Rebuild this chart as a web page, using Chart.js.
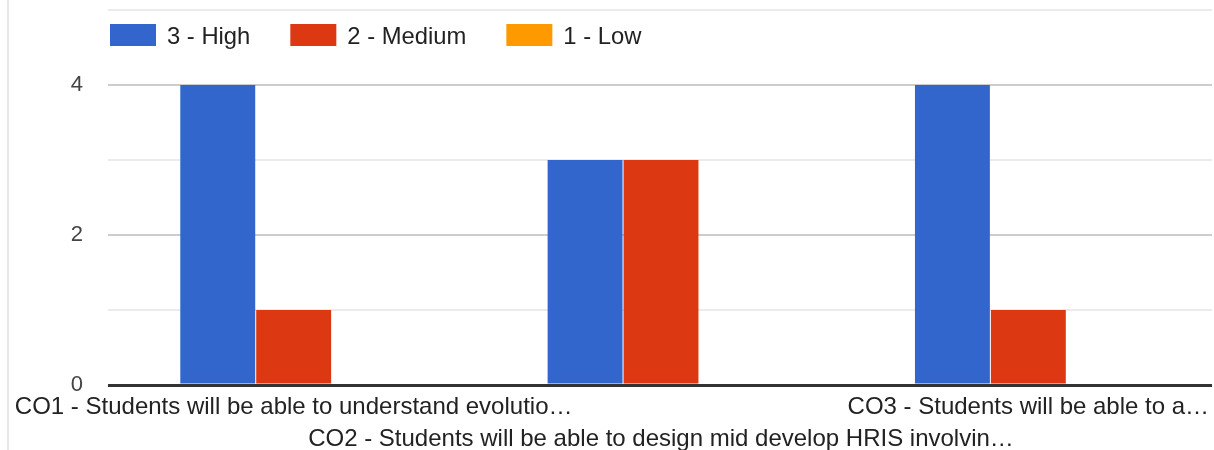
<!DOCTYPE html>
<html><head><meta charset="utf-8">
<script src="https://cdn.jsdelivr.net/npm/chart.js@4/dist/chart.umd.min.js"></script>
<style>
html,body{margin:0;padding:0;background:#fff;overflow:hidden;}
#wrap{position:relative;width:1214px;height:450px;}
#edge{position:absolute;left:7px;top:0;width:2px;height:450px;background:#e6e6e6;}
canvas{position:absolute;left:0;top:0;}
</style></head><body>
<div id="wrap"><div id="edge"></div><canvas id="c" width="1214" height="450"></canvas></div>
<script>
const categories = [
  "CO1 - Students will be able to understand evolutio\u2026",
  "CO2 - Students will be able to design mid develop HRIS involvin\u2026",
  "CO3 - Students will be able to a\u2026"
];
const seriesNames = ["3 - High", "2 - Medium", "1 - Low"];
const highValues = [4, 3, 4];
const mediumValues = [1, 3, 1];
const lowValues = [0, 0, 0];
const yMajorTicks = [0, 2, 4];
const seriesColors = ["#3366cc", "#dc3912", "#ff9900"];

const FONT = 'Arial, "Liberation Sans", sans-serif';

const legendPlugin = {
  id: 'customLegend',
  afterDraw(chart) {
    const ctx = chart.ctx;
    ctx.save();
    ctx.font = '23.8px ' + FONT;
    ctx.textBaseline = 'middle';
    let x = 110; const y = 24, bw = 46, bh = 22;
    chart.data.datasets.forEach(ds => {
      ctx.fillStyle = ds.backgroundColor;
      ctx.fillRect(x, y, bw, bh);
      const tx = x + bw + 11;
      ctx.fillStyle = '#222';
      ctx.fillText(ds.label, tx, y + bh / 2 + 2.5);
      x = tx + ctx.measureText(ds.label).width + 40;
    });
    ctx.restore();
  }
};

const seriesData = [highValues, mediumValues, lowValues];

new Chart(document.getElementById('c'), {
  type: 'bar',
  data: {
    labels: categories,
    datasets: seriesNames.map((n, i) => ({
      label: n,
      data: seriesData[i],
      backgroundColor: seriesColors[i],
      borderWidth: 0,
      categoryPercentage: 0.62,
      barPercentage: 0.987
    }))
  },
  options: {
    responsive: false,
    animation: false,
    layout: { padding: { top: 10, right: 2, left: 0, bottom: 0 } },
    plugins: { legend: { display: false }, tooltip: { enabled: false } },
    scales: {
      x: {
        grid: { display: false, drawTicks: false },
        border: { display: false },
        ticks: {
          autoSkip: false, maxRotation: 0, minRotation: 0, padding: 6,
          color: '#222',
          font: { family: FONT, size: 24, lineHeight: '32px' },
          callback(v, i) { const l = categories[i]; return i % 2 === 0 ? [l, ''] : ['', l]; }
        },
        afterFit(s) { s.height = 65; s.paddingLeft = 0; s.paddingRight = 0; }
      },
      y: {
        min: 0, max: 5,
        border: { display: false },
        grid: {
          drawTicks: true, tickLength: 2,
          color(c) { const v = c.tick ? c.tick.value : 0; return v === 0 ? '#333' : (yMajorTicks.includes(v) ? '#cccccc' : '#ebebeb'); },
          lineWidth(c) { const v = c.tick ? c.tick.value : 0; return v === 0 ? 3 : 2; }
        },
        ticks: {
          stepSize: 1, padding: 25, color: '#444',
          font: { family: FONT, size: 22 },
          callback(v) { return yMajorTicks.includes(v) ? String(v) : ''; }
        },
        afterFit(s) { s.width = 110; s.paddingTop = 0; s.paddingBottom = 0; }
      }
    }
  },
  plugins: [legendPlugin]
});
</script>
</body></html>
